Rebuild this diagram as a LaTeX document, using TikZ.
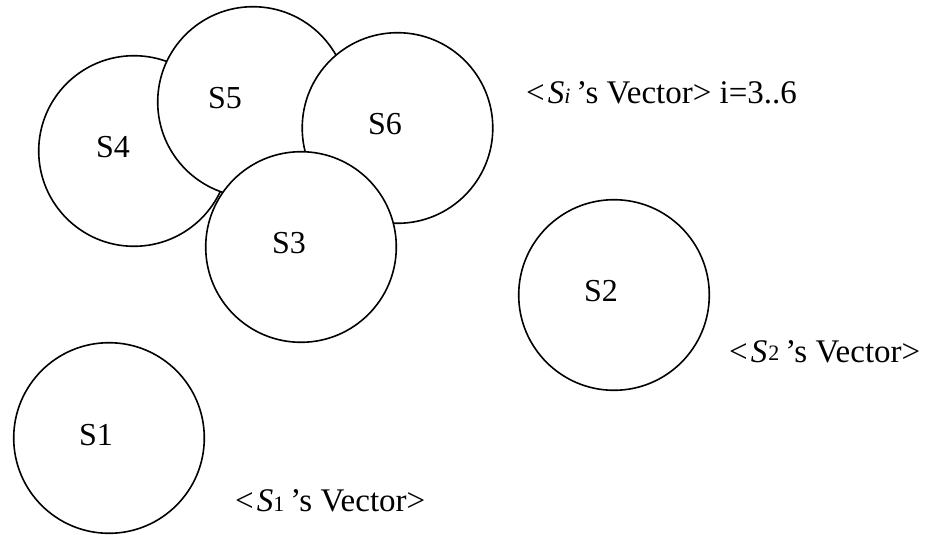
\documentclass[tikz,border=0pt]{standalone}
\usepackage{fontspec}
\setmainfont{Liberation Serif}
\begin{document}
\begin{tikzpicture}[x=1pt,y=-1pt,
  zone/.style={circle,draw=black,fill=white,line width=1.6pt,
    minimum size=190.6pt,inner sep=0pt},
  zonelabel/.style={anchor=base,inner sep=0pt,font=\fontsize{32pt}{32pt}\selectfont},
  veclabel/.style={anchor=base west,inner sep=0pt,font=\fontsize{33pt}{33pt}\selectfont}]
\useasboundingbox (0,0) rectangle (926,535);
% subscript helper for the vector captions
\newcommand{\vsub}[1]{{\fontsize{22pt}{22pt}\selectfont #1}}
% overlapping cluster: drawn back to front
\node[zone] (s4) at (134,151) {};
\node[zone] (s5) at (253,102) {};
\node[zone] (s6) at (397.5,128) {};
\node[zone] (s3) at (301,247) {};
% isolated zones
\node[zone] (s2) at (614,295) {};
\node[zone] (s1) at (109,438) {};
% zone names
\node[zonelabel] (l1) at (96,445) {S1};
\node[zonelabel] (l2) at (601,301) {S2};
\node[zonelabel] (l3) at (289,253) {S3};
\node[zonelabel] (l4) at (113,157) {S4};
\node[zonelabel] (l5) at (225,108) {S5};
\node[zonelabel] (l6) at (385,134) {S6};
% captions
\node[veclabel] (vi) at (526,103) {<\hspace{3pt}\textit{S}\vsub{\textit{i}}\hspace{6pt}’s Vector> i=3..6};
\node[veclabel] (v2) at (729,362) {<\hspace{3pt}\textit{S}\hspace{1pt}\raisebox{2pt}{\vsub{2}}\hspace{6pt}’s Vector>};
\node[veclabel] (v1) at (235,511) {<\hspace{3pt}\textit{S}\vsub{1}\hspace{6pt}’s Vector>};
\end{tikzpicture}
\end{document}
